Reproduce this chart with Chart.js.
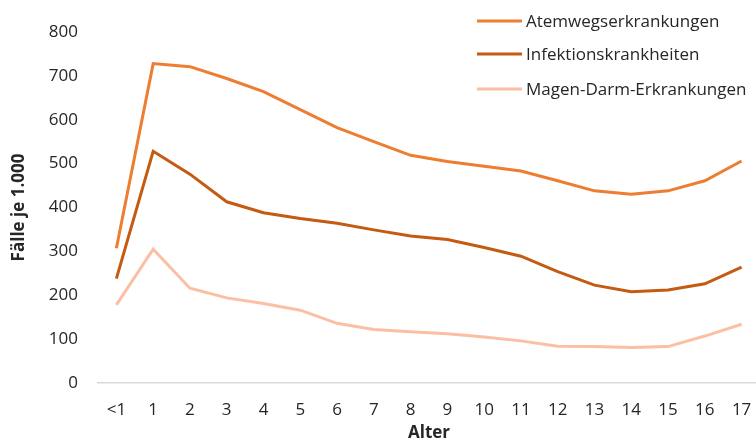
<!DOCTYPE html>
<html>
<head>
<meta charset="utf-8">
<script src="https://cdn.jsdelivr.net/npm/chart.js@4"></script>
<style>
html,body{margin:0;padding:0;background:#fff;overflow:hidden;width:756px;height:441px;}
canvas{display:block;}
</style>
</head>
<body>
<canvas id="c" width="760" height="441" style="width:760px;height:441px;"></canvas>
<script>
const categories = ['<1','1','2','3','4','5','6','7','8','9','10','11','12','13','14','15','16','17'];
const atemwegs = [307,728,721,694,664,623,582,550,519,505,494,483,461,438,430,438,461,506];
const infektion = [238,528,476,413,388,375,364,349,335,327,309,289,254,223,208,212,226,264];
const magenDarm = [178,305,216,194,181,166,136,122,117,112,105,96,84,83,81,83,107,134];
const seriesNames = ['Atemwegserkrankungen','Infektionskrankheiten','Magen-Darm-Erkrankungen'];
const yTicks = [0,100,200,300,400,500,600,700,800];
const xTitle = 'Alter';
const yTitle = 'Fälle je 1.000';

const colors = ['#ED7D31','#C55A11','#FBBFA3'];
const FONT = '"Open Sans", "Liberation Sans", sans-serif';
const TEXT = '#262626';

const legendPlugin = {
  id: 'customLegend',
  afterDraw(chart) {
    const ctx = chart.ctx;
    ctx.save();
    ctx.font = '17px ' + FONT;
    ctx.textBaseline = 'middle';
    ctx.fillStyle = TEXT;
    const ys = [21, 54, 89];
    chart.data.datasets.forEach((ds, i) => {
      ctx.strokeStyle = ds.borderColor;
      ctx.lineWidth = 3;
      ctx.beginPath();
      ctx.moveTo(477, ys[i]);
      ctx.lineTo(522, ys[i]);
      ctx.stroke();
      ctx.fillText(ds.label, 526, ys[i] + 1);
    });
    ctx.restore();
  }
};

new Chart(document.getElementById('c'), {
  type: 'line',
  data: {
    labels: categories,
    datasets: [atemwegs, infektion, magenDarm].map((d, i) => ({
      label: seriesNames[i],
      data: d,
      borderColor: colors[i],
      backgroundColor: colors[i],
      borderWidth: 3,
      pointRadius: 0,
      tension: 0,
      fill: false
    }))
  },
  options: {
    responsive: false,
    maintainAspectRatio: false,
    animation: false,
    devicePixelRatio: 1,
    layout: { padding: { top: 32, right: 0, bottom: 0, left: 0 } },
    plugins: { legend: { display: false }, tooltip: { enabled: false } },
    scales: {
      x: {
        offset: true,
        afterFit(axis) { axis.height = 58; axis.paddingLeft = 0; axis.paddingRight = 0; },
        grid: { display: false, drawTicks: false },
        border: { display: true, color: '#d9d9d9', width: 1.5 },
        ticks: { color: TEXT, font: { family: FONT, size: 17 }, padding: 17, maxRotation: 0, autoSkip: false },
        title: { display: true, text: xTitle, color: TEXT, font: { family: FONT, size: 17, weight: 'bold' }, padding: { top: 0, bottom: -2 } }
      },
      y: {
        min: 0, max: 800,
        afterFit(axis) { axis.width = 98; },
        afterBuildTicks(axis) { axis.ticks = yTicks.map(v => ({ value: v })); },
        grid: { display: false, drawTicks: false },
        border: { display: false },
        ticks: { color: TEXT, font: { family: FONT, size: 17 }, padding: 20 },
        title: { display: true, text: yTitle, color: TEXT, font: { family: FONT, size: 17, weight: 'bold' }, padding: { top: 9, bottom: 0 } }
      }
    }
  },
  plugins: [legendPlugin]
});
</script>
</body>
</html>
